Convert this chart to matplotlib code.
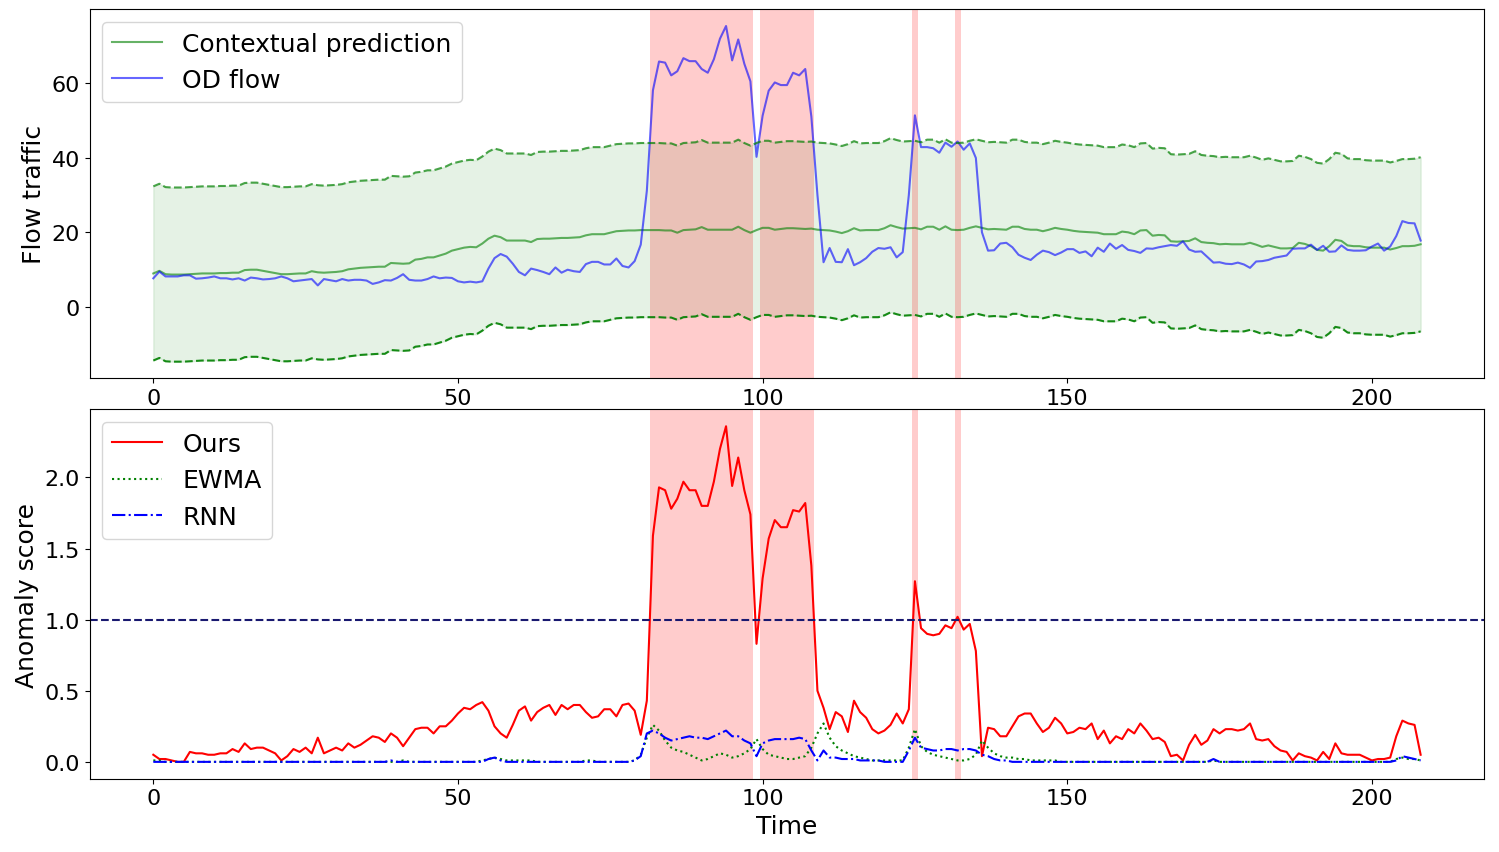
import matplotlib
matplotlib.use('Agg')
import matplotlib.pyplot as plt
import numpy as np

# contextual prediction (green line), the band is prediction +/- band_width
prediction = [
    9.0, 9.7, 8.8, 8.7, 8.7, 8.7, 8.8, 8.9, 9.0, 9.0,
    9.0, 9.1, 9.1, 9.2, 9.2, 9.9, 10.0, 10.0, 9.7, 9.4,
    9.1, 8.8, 8.8, 8.9, 9.0, 9.0, 9.6, 9.3, 9.2, 9.3,
    9.4, 9.6, 10.1, 10.3, 10.5, 10.6, 10.7, 10.8, 10.8, 11.8,
    11.7, 11.6, 11.7, 12.7, 12.9, 13.3, 13.3, 13.8, 14.3, 15.1,
    15.5, 15.9, 16.1, 16.0, 17.0, 18.3, 19.1, 18.7, 17.8, 17.8,
    17.8, 17.8, 17.4, 18.2, 18.3, 18.3, 18.4, 18.5, 18.5, 18.6,
    18.7, 19.2, 19.5, 19.5, 19.5, 19.9, 20.3, 20.4, 20.5, 20.5,
    20.6, 20.6, 20.6, 20.6, 20.5, 20.5, 19.9, 20.6, 20.7, 20.8,
    21.4, 20.7, 20.7, 20.7, 20.7, 20.7, 21.5, 20.6, 19.9, 20.6,
    21.2, 21.2, 20.7, 20.9, 21.1, 21.1, 21.0, 20.9, 21.0, 20.7,
    20.6, 20.5, 20.2, 19.8, 20.3, 21.1, 20.5, 20.6, 20.6, 20.6,
    21.1, 21.9, 21.4, 21.0, 21.1, 21.2, 20.8, 21.5, 21.5, 20.7,
    21.6, 20.7, 20.6, 20.7, 21.2, 21.6, 21.2, 20.8, 20.9, 20.8,
    20.7, 21.5, 21.5, 20.9, 20.7, 20.7, 20.3, 20.7, 21.2, 20.9,
    20.7, 20.4, 20.2, 20.1, 20.0, 19.9, 19.5, 19.5, 19.5, 20.2,
    20.0, 19.5, 20.5, 20.6, 19.1, 19.3, 19.2, 17.6, 17.5, 17.6,
    17.7, 18.4, 17.4, 17.2, 17.1, 16.8, 16.9, 16.8, 16.8, 16.8,
    17.2, 16.7, 16.1, 16.5, 16.1, 15.7, 15.7, 15.8, 17.2, 16.9,
    16.3, 15.3, 15.1, 16.3, 18.0, 17.7, 16.5, 16.3, 16.3, 16.0,
    15.9, 15.9, 15.9, 15.4, 15.8, 16.3, 16.3, 16.4, 16.8]
band_width = 23.3

od_flow = [
    7.7, 9.5, 8.2, 8.2, 8.2, 8.5, 8.5, 7.6, 7.7, 7.9,
    8.2, 7.7, 7.7, 7.4, 7.7, 7.1, 7.9, 7.7, 7.4, 7.5,
    7.7, 8.2, 7.7, 6.9, 7.1, 7.3, 7.5, 5.8, 7.5, 7.2,
    6.9, 7.5, 7.1, 7.3, 7.3, 7.1, 6.2, 6.6, 7.2, 7.1,
    7.8, 8.8, 7.3, 7.1, 7.1, 7.5, 8.2, 7.7, 7.9, 7.8,
    6.9, 6.6, 6.8, 6.6, 6.9, 10.3, 13.1, 14.2, 13.5, 11.6,
    9.4, 8.5, 10.3, 9.9, 9.4, 8.8, 10.6, 9.2, 10.0, 9.6,
    9.4, 11.5, 12.1, 12.1, 11.4, 11.4, 13.0, 11.0, 10.6, 12.3,
    16.7, 31.1, 58.0, 65.7, 65.4, 62.0, 63.1, 66.6, 65.8, 65.8,
    63.7, 62.7, 66.3, 71.8, 75.2, 66.0, 71.6, 65.1, 60.4, 40.2,
    51.2, 57.9, 60.1, 59.4, 59.4, 62.7, 62.0, 63.7, 51.0, 30.0,
    12.0, 15.8, 12.1, 12.0, 15.5, 11.2, 12.0, 13.1, 14.8, 15.8,
    15.6, 16.0, 13.3, 14.7, 30.0, 51.3, 42.8, 42.8, 42.5, 41.3,
    44.0, 42.9, 44.3, 42.1, 43.8, 39.9, 20.0, 15.1, 15.2, 17.0,
    17.2, 16.0, 14.0, 13.2, 12.6, 14.0, 15.1, 14.7, 13.9, 14.6,
    15.5, 15.5, 14.5, 14.9, 13.6, 15.9, 14.8, 17.0, 15.6, 16.6,
    15.3, 15.0, 14.5, 15.7, 15.6, 16.0, 16.3, 16.6, 16.4, 17.6,
    15.4, 14.8, 14.9, 13.4, 11.9, 12.0, 11.6, 11.5, 11.9, 11.4,
    10.5, 12.2, 12.3, 12.6, 13.2, 13.5, 13.8, 15.6, 15.7, 15.7,
    16.7, 15.3, 16.4, 14.8, 14.9, 16.5, 15.3, 15.1, 15.1, 15.2,
    16.2, 17.0, 15.1, 16.2, 19.0, 23.0, 22.5, 22.4, 17.8]

score_ours = [
    0.05, 0.02, 0.02, 0.01, 0.00, 0.00, 0.07, 0.06, 0.06, 0.05,
    0.05, 0.06, 0.06, 0.09, 0.07, 0.13, 0.09, 0.10, 0.10, 0.08,
    0.06, 0.01, 0.04, 0.09, 0.07, 0.10, 0.06, 0.17, 0.06, 0.08,
    0.10, 0.08, 0.13, 0.10, 0.12, 0.15, 0.18, 0.17, 0.14, 0.20,
    0.17, 0.11, 0.17, 0.23, 0.24, 0.24, 0.20, 0.25, 0.25, 0.29,
    0.34, 0.38, 0.37, 0.40, 0.42, 0.36, 0.25, 0.20, 0.17, 0.26,
    0.36, 0.39, 0.29, 0.35, 0.38, 0.40, 0.33, 0.40, 0.37, 0.40,
    0.40, 0.35, 0.31, 0.32, 0.37, 0.37, 0.32, 0.40, 0.41, 0.36,
    0.19, 0.43, 1.59, 1.93, 1.91, 1.78, 1.85, 1.97, 1.91, 1.91,
    1.80, 1.80, 1.97, 2.20, 2.36, 1.94, 2.14, 1.91, 1.74, 0.83,
    1.29, 1.57, 1.70, 1.65, 1.65, 1.77, 1.76, 1.82, 1.38, 0.50,
    0.38, 0.23, 0.35, 0.32, 0.21, 0.43, 0.35, 0.31, 0.23, 0.20,
    0.22, 0.26, 0.34, 0.27, 0.37, 1.27, 0.94, 0.90, 0.89, 0.90,
    0.96, 0.94, 1.02, 0.93, 0.97, 0.78, 0.04, 0.24, 0.23, 0.18,
    0.18, 0.25, 0.32, 0.34, 0.34, 0.27, 0.21, 0.24, 0.31, 0.27,
    0.20, 0.21, 0.24, 0.23, 0.27, 0.16, 0.22, 0.13, 0.18, 0.16,
    0.23, 0.20, 0.27, 0.22, 0.16, 0.17, 0.14, 0.04, 0.05, 0.01,
    0.12, 0.19, 0.12, 0.15, 0.23, 0.20, 0.23, 0.23, 0.22, 0.23,
    0.27, 0.16, 0.15, 0.16, 0.11, 0.08, 0.07, 0.01, 0.06, 0.04,
    0.03, 0.01, 0.07, 0.02, 0.13, 0.06, 0.05, 0.05, 0.05, 0.03,
    0.01, 0.02, 0.02, 0.03, 0.18, 0.29, 0.27, 0.26, 0.05]

score_ewma = [
    0.01, 0.01, 0.00, 0.00, 0.00, 0.00, 0.00, 0.00, 0.00, 0.00,
    0.00, 0.00, 0.00, 0.00, 0.00, 0.00, 0.00, 0.00, 0.00, 0.00,
    0.00, 0.00, 0.00, 0.00, 0.00, 0.00, 0.00, 0.00, 0.00, 0.00,
    0.00, 0.00, 0.00, 0.00, 0.00, 0.00, 0.00, 0.00, 0.00, 0.00,
    0.00, 0.01, 0.00, 0.00, 0.00, 0.00, 0.00, 0.00, 0.00, 0.00,
    0.00, 0.00, 0.00, 0.00, 0.01, 0.02, 0.03, 0.02, 0.01, 0.01,
    0.01, 0.01, 0.01, 0.00, 0.00, 0.00, 0.00, 0.00, 0.00, 0.00,
    0.00, 0.01, 0.01, 0.00, 0.00, 0.00, 0.00, 0.00, 0.00, 0.01,
    0.05, 0.17, 0.26, 0.22, 0.15, 0.10, 0.08, 0.07, 0.05, 0.03,
    0.01, 0.02, 0.04, 0.06, 0.05, 0.03, 0.04, 0.06, 0.09, 0.16,
    0.09, 0.05, 0.04, 0.03, 0.02, 0.02, 0.03, 0.04, 0.10, 0.20,
    0.27, 0.17, 0.11, 0.08, 0.06, 0.04, 0.03, 0.02, 0.01, 0.01,
    0.01, 0.01, 0.01, 0.01, 0.10, 0.23, 0.11, 0.07, 0.05, 0.04,
    0.03, 0.02, 0.01, 0.01, 0.02, 0.05, 0.15, 0.10, 0.06, 0.04,
    0.03, 0.03, 0.02, 0.02, 0.01, 0.01, 0.01, 0.01, 0.01, 0.00,
    0.00, 0.00, 0.00, 0.00, 0.00, 0.00, 0.00, 0.00, 0.00, 0.00,
    0.00, 0.00, 0.00, 0.00, 0.00, 0.00, 0.00, 0.00, 0.00, 0.00,
    0.00, 0.00, 0.00, 0.00, 0.01, 0.00, 0.00, 0.00, 0.00, 0.00,
    0.00, 0.00, 0.00, 0.00, 0.00, 0.00, 0.00, 0.00, 0.00, 0.00,
    0.00, 0.00, 0.00, 0.00, 0.00, 0.00, 0.00, 0.00, 0.00, 0.00,
    0.00, 0.00, 0.00, 0.00, 0.02, 0.03, 0.02, 0.02, 0.01]

score_rnn = [
    0.00, 0.00, 0.00, 0.00, 0.00, 0.00, 0.00, 0.00, 0.00, 0.00,
    0.00, 0.00, 0.00, 0.00, 0.00, 0.00, 0.00, 0.00, 0.00, 0.00,
    0.00, 0.00, 0.00, 0.00, 0.00, 0.00, 0.00, 0.00, 0.00, 0.00,
    0.00, 0.00, 0.00, 0.00, 0.00, 0.00, 0.00, 0.00, 0.00, 0.01,
    0.00, 0.00, 0.00, 0.00, 0.00, 0.00, 0.00, 0.00, 0.00, 0.00,
    0.00, 0.00, 0.00, 0.00, 0.00, 0.02, 0.03, 0.01, 0.00, 0.00,
    0.00, 0.00, 0.00, 0.00, 0.00, 0.00, 0.00, 0.00, 0.00, 0.00,
    0.00, 0.00, 0.00, 0.00, 0.00, 0.00, 0.00, 0.00, 0.00, 0.01,
    0.04, 0.20, 0.22, 0.20, 0.17, 0.15, 0.16, 0.17, 0.18, 0.17,
    0.17, 0.16, 0.18, 0.20, 0.22, 0.18, 0.18, 0.15, 0.13, 0.04,
    0.13, 0.15, 0.16, 0.16, 0.16, 0.16, 0.17, 0.16, 0.08, 0.01,
    0.08, 0.03, 0.03, 0.02, 0.02, 0.02, 0.01, 0.01, 0.01, 0.01,
    0.00, 0.00, 0.00, 0.00, 0.08, 0.17, 0.10, 0.09, 0.08, 0.08,
    0.09, 0.09, 0.08, 0.09, 0.09, 0.08, 0.05, 0.04, 0.02, 0.01,
    0.01, 0.00, 0.00, 0.00, 0.00, 0.00, 0.00, 0.00, 0.00, 0.00,
    0.00, 0.00, 0.00, 0.00, 0.00, 0.00, 0.00, 0.00, 0.00, 0.00,
    0.00, 0.00, 0.00, 0.00, 0.00, 0.00, 0.00, 0.00, 0.00, 0.00,
    0.00, 0.00, 0.00, 0.00, 0.02, 0.00, 0.00, 0.00, 0.00, 0.00,
    0.00, 0.00, 0.00, 0.00, 0.00, 0.00, 0.00, 0.00, 0.00, 0.00,
    0.00, 0.00, 0.00, 0.00, 0.00, 0.00, 0.00, 0.00, 0.00, 0.00,
    0.00, 0.00, 0.00, 0.00, 0.01, 0.04, 0.03, 0.02, 0.01]

# labelled anomaly periods (first, last time step)
anomaly_ranges = [(82, 98), (100, 108), (125, 125), (132, 132)]
threshold = 1.0

t = np.arange(len(prediction))
pred = np.array(prediction)

plt.rcParams['font.size'] = 16

fig, (ax1, ax2) = plt.subplots(2, 1, figsize=(14.99, 8.53), dpi=100)

# top: flow and prediction band
ax1.plot(t, pred, color='g', alpha=0.6, label='Contextual prediction')
ax1.plot(t, od_flow, color='b', alpha=0.6, label='OD flow')
ax1.plot(t, pred + band_width, 'g--', alpha=0.7, linewidth=1.5)
ax1.plot(t, pred - band_width, 'g--', alpha=0.9, linewidth=1.5)
ax1.fill_between(t, pred - band_width, pred + band_width, color='g', alpha=0.1)
for a, b in anomaly_ranges:
    ax1.axvspan(a - 0.5, b + 0.5, color='red', alpha=0.2, linewidth=0)
ax1.set_ylabel('Flow traffic', fontsize=18)
ax1.legend(loc='upper left', fontsize=18)

# bottom: anomaly scores
ax2.plot(t, score_ours, 'r-', label='Ours')
ax2.plot(t, score_ewma, 'g:', label='EWMA')
ax2.plot(t, score_rnn, 'b-.', label='RNN')
ax2.axhline(threshold, color='midnightblue', linestyle='--')
for a, b in anomaly_ranges:
    ax2.axvspan(a - 0.5, b + 0.5, color='red', alpha=0.2, linewidth=0)
ax2.set_ylabel('Anomaly score', fontsize=18)
ax2.set_xlabel('Time', fontsize=18)
ax2.legend(loc='upper left', fontsize=18)

plt.subplots_adjust(left=0.06, right=0.99, top=0.988, bottom=0.086, hspace=0.084)
plt.savefig('out.png')
